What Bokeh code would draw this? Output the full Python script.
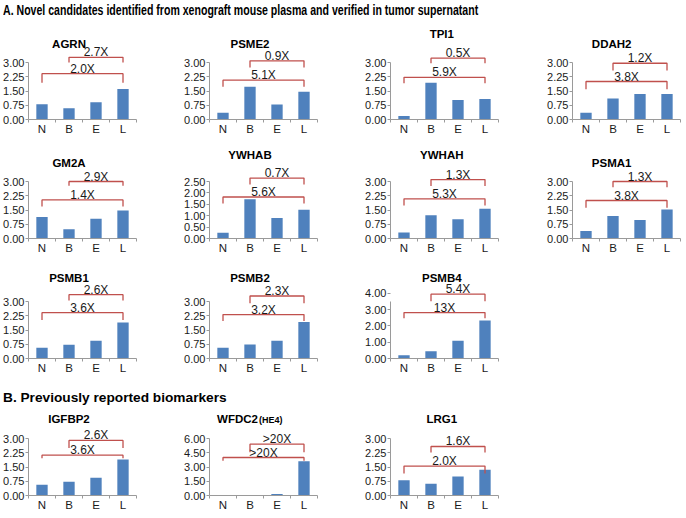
from bokeh.plotting import figure
from bokeh.models import FixedTicker, Div, NumeralTickFormatter
from bokeh.layouts import column, row
from bokeh.embed import file_html
from bokeh.resources import INLINE
from bokeh.core.properties import value

# ---------------- data ----------------
categories = ["N", "B", "E", "L"]

proteins_a = ["AGRN", "PSME2", "TPI1", "DDAH2",
              "GM2A", "YWHAB", "YWHAH", "PSMA1",
              "PSMB1", "PSMB2", "PSMB4"]
proteins_b = ["IGFBP2", "WFDC2", "LRG1"]

agrn = [0.80, 0.59, 0.91, 1.61]
psme2 = [0.35, 1.72, 0.79, 1.46]
tpi1 = [0.18, 1.94, 1.02, 1.08]
ddah2 = [0.35, 1.11, 1.34, 1.34]
gm2a = [1.13, 0.49, 1.04, 1.47]
ywhab = [0.25, 1.72, 0.90, 1.26]
ywhah = [0.31, 1.22, 1.01, 1.57]
psma1 = [0.40, 1.19, 0.98, 1.53]
psmb1 = [0.56, 0.73, 0.93, 1.90]
psmb2 = [0.57, 0.74, 0.94, 1.92]
psmb4 = [0.20, 0.45, 1.09, 2.33]
igfbp2 = [0.56, 0.73, 0.93, 1.90]
wfdc2 = [0.0, 0.0, 0.15, 3.60]
lrg1 = [0.80, 0.62, 1.00, 1.35]

values_a = [agrn, psme2, tpi1, ddah2, gm2a, ywhab, ywhah, psma1, psmb1, psmb2, psmb4]
values_b = [igfbp2, wfdc2, lrg1]

# fold-change labels: L vs B (upper bracket), L vs N (lower bracket)
fold_lb_a = ["2.7X", "0.9X", "0.5X", "1.2X", "2.9X", "0.7X", "1.3X", "1.3X", "2.6X", "2.3X", "5.4X"]
fold_ln_a = ["2.0X", "5.1X", "5.9X", "3.8X", "1.4X", "5.6X", "5.3X", "3.8X", "3.6X", "3.2X", "13X"]
fold_lb_b = ["2.6X", ">20X", "1.6X"]
fold_ln_b = ["3.6X", ">20X", "2.0X"]

# y-axis maxima and tick steps
axis_max_a = [3.0, 3.0, 3.0, 3.0, 3.0, 2.5, 3.0, 3.0, 3.0, 3.0, 3.5]
axis_step_a = [0.75, 0.75, 0.75, 0.75, 0.75, 0.5, 0.75, 0.75, 0.75, 0.75, 1.0]
axis_max_b = [3.0, 6.0, 3.0]
axis_step_b = [0.75, 1.5, 0.75]

# bracket levels (axis units): upper line, upper drop end, lower line, lower drop end
up_line_a = [3.27, 3.09, 3.23, 2.96, 3.00, 2.65, 3.10, 3.00, 3.36, 3.29, 3.95]
up_drop_a = [3.00, 2.74, 2.96, 2.58, 2.77, 2.37, 2.76, 2.70, 3.05, 2.91, 3.51]
lo_line_a = [2.41, 2.07, 2.22, 2.00, 2.03, 1.82, 2.09, 2.00, 2.41, 2.31, 2.82]
lo_drop_a = [1.93, 1.72, 1.91, 1.59, 1.68, 1.53, 1.74, 1.62, 2.03, 1.97, 2.47]
up_line_b = [2.90, 5.40, 2.58]
up_drop_b = [2.50, 4.55, 2.26]
lo_line_b = [2.12, 4.00, 1.55]
lo_drop_b = [1.96, 3.65, 1.16]

# ---------------- styling ----------------
BAR = "#4F81BD"
RED = "#C0504D"
AXIS = "#9A9A9A"
TXT = "#1A1A1A"
FONT = "Liberation Sans"
AXIS_PX = 57
FRAME_W = 108

col_left = [28, 30, 30, 30]
col_right = [43, 43, 44, 2]
title_x_col = [2.0, 2.0, 2.4, 1.95]


def panel(name, vals, ymax, ystep, lb, ln, ul, ud, ll, ld, title_f, col,
          frame_h, top_b, bot_b, title_parts=None):
    y_end = ymax * frame_h / AXIS_PX
    p = figure(frame_width=FRAME_W, frame_height=frame_h,
               x_range=(0.5, len(categories) + 0.5), y_range=(0, y_end),
               output_backend="svg", toolbar_location=None,
               min_border_left=col_left[col], min_border_right=col_right[col],
               min_border_top=top_b, min_border_bottom=bot_b)
    p.outline_line_color = None
    p.grid.visible = False
    p.background_fill_color = "white"
    p.border_fill_color = "white"

    xs = list(range(1, len(categories) + 1))
    p.vbar(x=xs, top=vals, width=0.42, fill_color=BAR, line_color=None)

    # x axis
    xa = p.xaxis[0]
    xa.ticker = FixedTicker(ticks=xs, minor_ticks=[x - 0.5 for x in xs] + [xs[-1] + 0.5])
    xa.major_label_overrides = {x: c for x, c in zip(xs, categories)}
    xa.major_tick_out = 0
    xa.major_tick_in = 0
    xa.minor_tick_out = 3
    xa.minor_tick_in = 0
    xa.minor_tick_line_color = AXIS
    xa.axis_line_color = AXIS
    xa.major_label_standoff = 0
    xa.axis_label_standoff = 0
    xa.major_label_text_font = FONT
    xa.major_label_text_font_size = "11.5px"
    xa.major_label_text_color = TXT

    # y axis
    ya = p.yaxis[0]
    n = int(round(ymax / ystep))
    ya.ticker = FixedTicker(ticks=[i * ystep for i in range(n + 1)], minor_ticks=[])
    ya.formatter = NumeralTickFormatter(format="0.00")
    ya.bounds = (0, ymax)
    ya.major_tick_out = 3
    ya.major_tick_in = 0
    ya.minor_tick_out = 0
    ya.major_tick_line_color = AXIS
    ya.axis_line_color = AXIS
    ya.major_label_standoff = 1
    ya.axis_label_standoff = 0
    ya.major_label_text_font = FONT
    ya.major_label_text_font_size = "11px"
    ya.major_label_text_color = TXT

    # brackets
    ib, il, iN = categories.index("B") + 1, categories.index("L") + 1, categories.index("N") + 1
    p.line(x=[ib, ib, il, il], y=[ud, ul, ul, ud], line_color=RED, line_width=1.3)
    p.line(x=[iN, iN, il, il], y=[ld, ll, ll, ld], line_color=RED, line_width=1.3)
    p.text(x=[(ib + il) / 2], y=[ul], text=[lb], text_align="center",
           text_baseline="middle", y_offset=-5, text_font=value(FONT),
           text_font_size="12px", text_color=TXT)
    p.text(x=[(iN + il) / 2], y=[ll], text=[ln], text_align="center",
           text_baseline="middle", y_offset=-5, text_font=value(FONT),
           text_font_size="12px", text_color=TXT)

    # panel title
    tx = title_x_col[col]
    if title_parts is None:
        p.text(x=[tx], y=[title_f * ymax], text=[name], text_align="center",
               text_baseline="middle", text_font=value(FONT), text_font_style="bold",
               text_font_size="11.5px", text_color="black")
    else:
        main, sub = title_parts
        p.text(x=[tx], y=[title_f * ymax], text=[main], text_align="right",
               text_baseline="middle", x_offset=8, text_font=value(FONT),
               text_font_style="bold", text_font_size="11.5px", text_color="black")
        p.text(x=[tx], y=[title_f * ymax], text=[sub], text_align="left",
               text_baseline="middle", x_offset=9, y_offset=1, text_font=value(FONT),
               text_font_style="bold", text_font_size="9px", text_color="black")
    return p


title_f_a = [1.32, 1.32, 1.50, 1.32, 1.32, 1.46, 1.46, 1.32, 1.41, 1.41, 1.41]
title_f_b = [1.35, 1.35, 1.35]
row_tops = [5, 3, 4]

figs_a = []
for i, name in enumerate(proteins_a):
    r, c = divmod(i, 4)
    figs_a.append(panel(name, values_a[i], axis_max_a[i], axis_step_a[i],
                        fold_lb_a[i], fold_ln_a[i], up_line_a[i], up_drop_a[i],
                        lo_line_a[i], lo_drop_a[i], title_f_a[i], c,
                        94, row_tops[r], 22))

figs_b = []
for i, name in enumerate(proteins_b):
    parts = ("WFDC2", "(HE4)") if name == "WFDC2" else None
    figs_b.append(panel(name, values_b[i], axis_max_b[i], axis_step_b[i],
                        fold_lb_b[i], fold_ln_b[i], up_line_b[i], up_drop_b[i],
                        lo_line_b[i], lo_drop_b[i], title_f_b[i], i,
                        90, 0, 20, parts))

inner_a = ("display:inline-block; transform:scaleX(0.755); transform-origin:0 50%; "
           "font-family:'Liberation Sans', Arial, sans-serif; font-weight:bold; "
           "font-size:14px; color:black; white-space:nowrap;")
inner_b = ("display:inline-block; font-family:'Liberation Sans', Arial, sans-serif; "
           "font-weight:bold; font-size:13.7px; color:black; white-space:nowrap;")
head_a = Div(text=f'<div style="padding-left:3px; line-height:20px;"><span style="{inner_a}">'
                  'A. Novel candidates identified from xenograft mouse plasma and verified in tumor supernatant'
                  '</span></div>',
             width=684, height=20, margin=0)
head_b = Div(text=f'<div style="padding-left:3px; padding-top:10px; line-height:16px;"><span style="{inner_b}">'
                  'B. Previously reported biomarkers</span></div>',
             width=684, height=25, margin=0)

rows = [row(figs_a[0:4], spacing=0), row(figs_a[4:8], spacing=0), row(figs_a[8:11], spacing=0)]
layout = column([head_a] + rows + [head_b, row(figs_b, spacing=0)], spacing=0)

open("out.html", "w").write(file_html(layout, INLINE))
